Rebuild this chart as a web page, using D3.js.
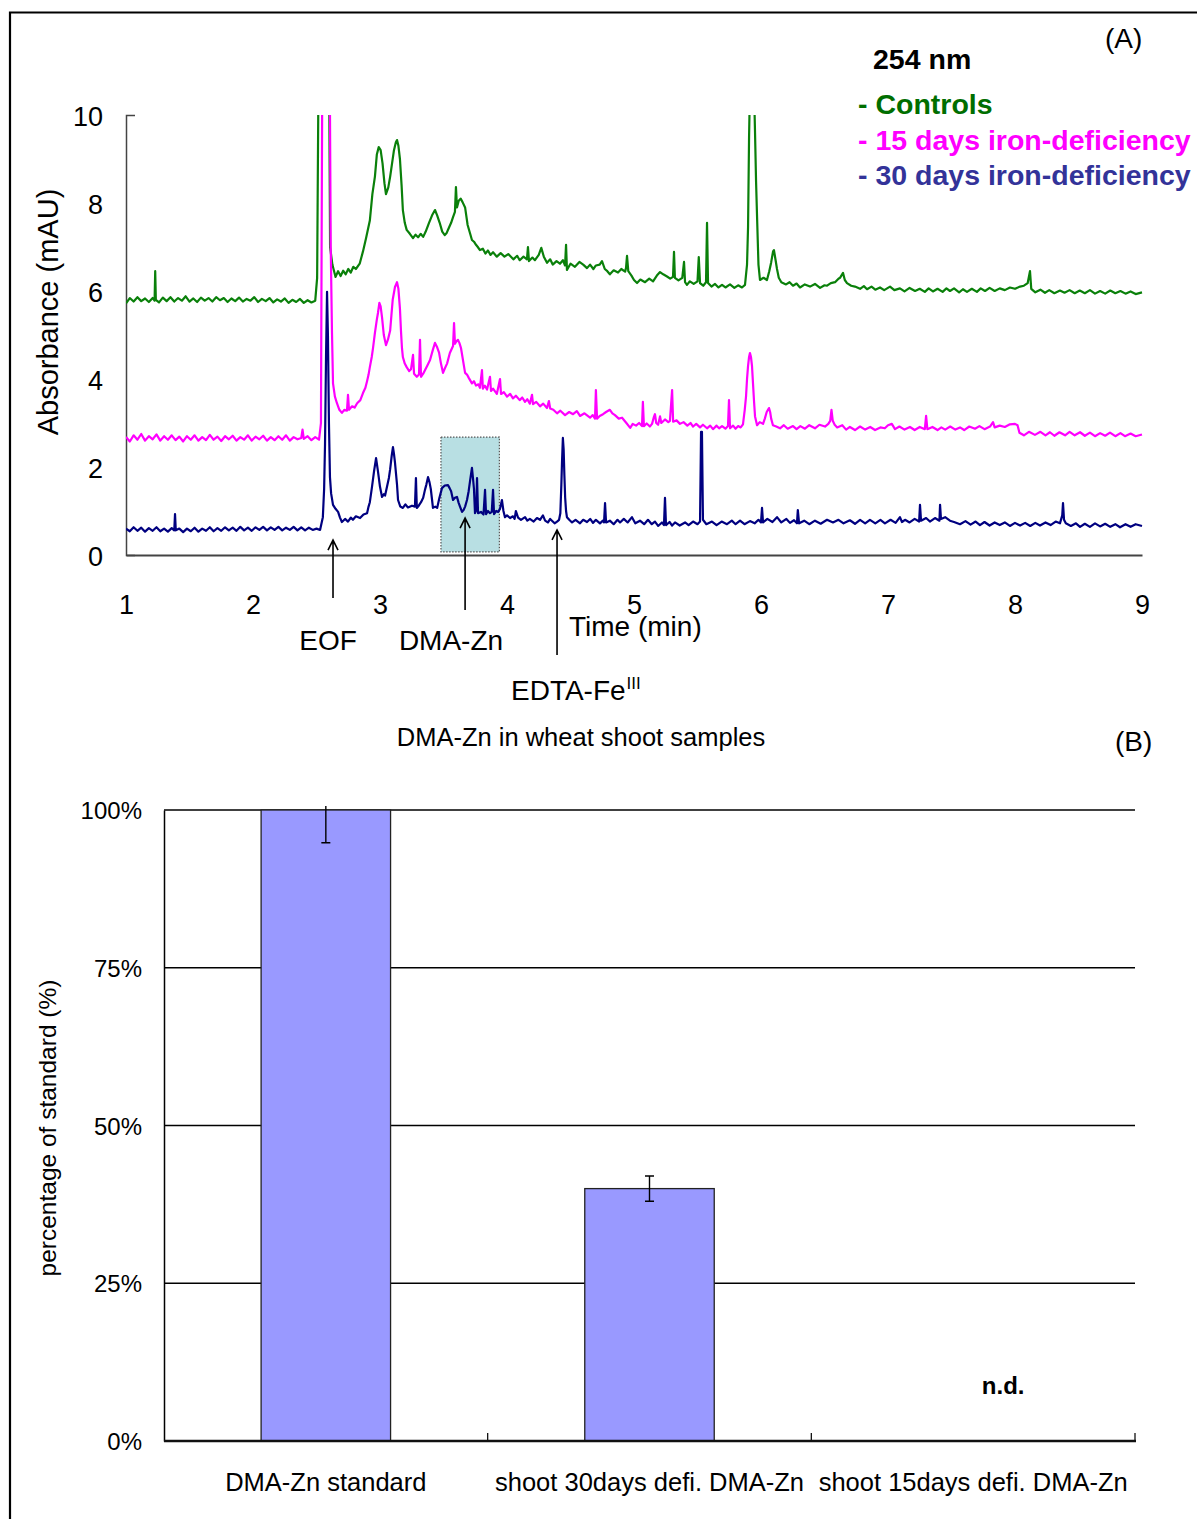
<!DOCTYPE html>
<html>
<head>
<meta charset="utf-8">
<script src="https://cdnjs.cloudflare.com/ajax/libs/d3/7.8.5/d3.min.js"></script>
<style>
html,body{margin:0;padding:0;background:#fff;}
text{font-family:"Liberation Sans",Arial,Helvetica,sans-serif;}
</style>
</head>
<body>
<script>
// ---------- DATA (panel A: electropherograms, [time min, absorbance mAU]) ----------
const controls = [[1.00,5.72],[1.03,5.84],[1.06,5.76],[1.09,5.86],[1.12,5.77],[1.15,5.83],[1.18,5.75],[1.21,5.84],[1.225,5.78],[1.23,6.45],[1.235,5.80],[1.26,5.74],[1.29,5.85],[1.32,5.77],[1.35,5.86],[1.38,5.76],[1.41,5.84],[1.44,5.78],[1.47,5.88],[1.50,5.76],[1.53,5.83],[1.56,5.75],[1.59,5.85],[1.62,5.78],[1.65,5.84],[1.68,5.76],[1.71,5.86],[1.74,5.79],[1.77,5.84],[1.80,5.75],[1.83,5.83],[1.86,5.77],[1.89,5.85],[1.92,5.76],[1.95,5.82],[1.98,5.78],[2.01,5.86],[2.04,5.75],[2.07,5.82],[2.10,5.77],[2.13,5.84],[2.16,5.74],[2.19,5.81],[2.22,5.76],[2.25,5.83],[2.28,5.73],[2.31,5.80],[2.34,5.75],[2.37,5.82],[2.40,5.73],[2.43,5.79],[2.46,5.74],[2.49,5.78],
[2.505,6.3],[2.515,10.6],[2.60,10.6],[2.607,7.0],[2.625,6.6],[2.65,6.32],[2.67,6.45],[2.69,6.34],[2.71,6.46],[2.73,6.38],[2.75,6.50],[2.77,6.42],[2.79,6.55],[2.81,6.50],[2.84,6.62],[2.866,6.9],[2.89,7.2],[2.92,7.6],[2.94,8.2],[2.96,8.6],[2.975,9.1],[2.99,9.27],[3.005,9.2],[3.02,8.9],[3.035,8.45],[3.047,8.2],[3.065,8.35],[3.08,8.6],[3.095,8.9],[3.11,9.2],[3.125,9.38],[3.134,9.43],[3.145,9.3],[3.157,9.0],[3.17,8.4],[3.18,7.84],[3.195,7.55],[3.21,7.39],[3.235,7.3],[3.26,7.2],[3.28,7.28],[3.30,7.22],[3.32,7.3],[3.34,7.23],[3.36,7.35],[3.386,7.55],[3.41,7.72],[3.433,7.84],[3.45,7.72],[3.47,7.55],[3.49,7.35],[3.51,7.27],[3.525,7.32],[3.54,7.42],[3.56,7.55],[3.575,7.68],[3.59,7.8],[3.598,8.36],[3.606,7.9],[3.62,8.05],[3.635,8.1],[3.65,8.02],[3.67,7.9],[3.69,7.5],[3.71,7.3],[3.724,7.16],[3.74,7.12],[3.756,7.05],[3.77,7.0],[3.787,6.93],[3.81,6.96],[3.83,6.85],[3.85,6.92],[3.87,6.82],[3.89,6.88],[3.92,6.78],[3.95,6.86],[3.98,6.78],[4.01,6.84],[4.05,6.72],[4.08,6.8],[4.10,6.7],[4.13,6.78],[4.157,6.72],[4.165,7.0],[4.173,6.68],[4.20,6.76],[4.22,6.7],[4.25,6.82],[4.27,6.98],[4.29,6.78],[4.315,6.64],[4.34,6.72],[4.36,6.6],[4.39,6.68],[4.417,6.62],[4.44,6.7],[4.457,6.58],[4.465,7.05],[4.472,6.48],[4.50,6.62],[4.535,6.55],[4.57,6.66],[4.60,6.6],[4.63,6.52],[4.654,6.6],[4.68,6.5],[4.70,6.58],[4.73,6.6],[4.748,6.68],[4.77,6.5],[4.79,6.45],[4.81,6.38],[4.84,6.47],[4.874,6.42],[4.90,6.5],[4.93,6.44],[4.937,6.52],[4.945,6.8],[4.955,6.45],[4.98,6.35],[5.00,6.25],[5.024,6.18],[5.05,6.26],[5.087,6.2],[5.12,6.28],[5.15,6.22],[5.18,6.35],[5.205,6.43],[5.23,6.38],[5.26,6.33],[5.285,6.28],[5.307,6.32],[5.315,6.89],[5.322,6.3],[5.35,6.24],[5.38,6.3],[5.394,6.66],[5.402,6.2],[5.417,6.14],[5.44,6.22],[5.47,6.16],[5.50,6.22],[5.51,6.77],[5.52,6.18],[5.545,6.12],[5.567,6.2],[5.575,7.55],[5.583,6.18],[5.61,6.1],[5.638,6.16],[5.665,6.08],[5.693,6.14],[5.72,6.08],[5.756,6.15],[5.79,6.07],[5.82,6.13],[5.85,6.08],[5.874,6.14],[5.89,6.6],[5.898,7.45],[5.906,9.5],[5.913,10.6],[5.945,10.6],[5.953,9.6],[5.961,8.5],[5.969,7.68],[5.98,6.6],[5.992,6.25],[6.02,6.3],[6.047,6.25],[6.065,6.45],[6.08,6.65],[6.095,6.9],[6.102,6.93],[6.115,6.7],[6.126,6.5],[6.14,6.3],[6.16,6.2],[6.197,6.15],[6.225,6.2],[6.252,6.12],[6.28,6.17],[6.307,6.08],[6.345,6.15],[6.386,6.1],[6.425,6.16],[6.465,6.07],[6.50,6.13],[6.52,6.12],[6.55,6.18],[6.583,6.2],[6.61,6.28],[6.622,6.3],[6.646,6.41],[6.66,6.25],[6.677,6.18],[6.71,6.12],[6.74,6.1],[6.78,6.05],[6.81,6.11],[6.835,6.04],[6.87,6.1],[6.90,6.03],[6.937,6.08],[6.97,6.02],[7.016,6.1],[7.05,6.02],[7.094,6.06],[7.13,5.99],[7.17,6.07],[7.213,6.0],[7.25,6.05],[7.29,5.98],[7.32,6.06],[7.354,5.99],[7.39,6.05],[7.43,5.98],[7.46,6.06],[7.488,6.0],[7.52,6.06],[7.56,5.97],[7.59,6.04],[7.622,5.98],[7.66,6.05],[7.70,5.98],[7.73,6.06],[7.764,6.0],[7.80,6.07],[7.84,6.0],[7.88,6.06],[7.92,6.02],[7.96,6.08],[8.00,6.05],[8.04,6.1],[8.07,6.12],[8.10,6.18],[8.118,6.45],[8.128,6.05],[8.16,5.97],[8.20,6.03],[8.236,5.96],[8.27,6.02],[8.31,5.95],[8.354,6.01],[8.39,5.96],[8.43,6.02],[8.47,5.95],[8.51,6.01],[8.55,5.95],[8.59,6.02],[8.63,5.94],[8.67,6.0],[8.71,5.94],[8.75,6.01],[8.79,5.95],[8.83,6.0],[8.87,5.94],[8.91,5.99],[8.95,5.93],[9.00,5.97]];

const days15 = [[1.00,2.68],[1.03,2.58],[1.06,2.72],[1.09,2.62],[1.12,2.75],[1.15,2.60],[1.18,2.70],[1.21,2.63],[1.24,2.74],[1.27,2.60],[1.30,2.70],[1.33,2.62],[1.36,2.72],[1.39,2.61],[1.42,2.69],[1.45,2.58],[1.48,2.70],[1.51,2.62],[1.54,2.72],[1.57,2.60],[1.60,2.68],[1.63,2.61],[1.66,2.73],[1.69,2.62],[1.72,2.69],[1.75,2.59],[1.78,2.70],[1.81,2.63],[1.84,2.71],[1.87,2.60],[1.90,2.68],[1.93,2.62],[1.96,2.72],[1.99,2.60],[2.02,2.69],[2.05,2.63],[2.08,2.71],[2.11,2.60],[2.14,2.68],[2.17,2.61],[2.20,2.70],[2.23,2.62],[2.26,2.72],[2.29,2.60],[2.32,2.68],[2.35,2.63],[2.38,2.66],[2.39,2.85],[2.40,2.64],[2.43,2.70],[2.46,2.61],[2.49,2.68],[2.52,2.62],
[2.535,3.0],[2.545,10.6],[2.605,10.6],[2.612,7.0],[2.622,5.05],[2.63,3.9],[2.645,3.6],[2.661,3.45],[2.68,3.3],[2.70,3.23],[2.72,3.3],[2.74,3.28],[2.748,3.64],[2.756,3.3],[2.78,3.38],[2.80,3.35],[2.82,3.45],[2.845,3.52],[2.866,3.68],[2.885,3.8],[2.898,3.95],[2.91,4.1],[2.92,4.27],[2.935,4.5],[2.945,4.7],[2.96,5.05],[2.975,5.35],[2.984,5.5],[2.995,5.73],[3.005,5.65],[3.016,5.4],[3.03,5.0],[3.047,4.77],[3.063,4.9],[3.08,5.1],[3.09,5.45],[3.10,5.8],[3.118,6.09],[3.134,6.2],[3.145,6.05],[3.157,5.6],[3.165,5.1],[3.173,4.7],[3.18,4.5],[3.195,4.35],[3.21,4.27],[3.23,4.18],[3.244,4.22],[3.26,4.55],[3.268,4.12],[3.29,4.05],[3.307,4.1],[3.315,4.89],[3.323,4.05],[3.34,4.12],[3.354,4.2],[3.375,4.32],[3.394,4.43],[3.415,4.65],[3.433,4.82],[3.45,4.72],[3.465,4.6],[3.48,4.35],[3.496,4.14],[3.512,4.25],[3.528,4.35],[3.55,4.59],[3.575,4.75],[3.583,5.27],[3.59,4.8],[3.60,4.85],[3.614,4.89],[3.625,4.82],[3.638,4.7],[3.655,4.4],[3.67,4.14],[3.685,4.1],[3.70,4.02],[3.724,3.9],[3.74,3.95],[3.756,3.85],[3.775,3.88],[3.787,3.8],[3.803,4.2],[3.81,3.78],[3.825,3.85],[3.843,3.76],[3.866,4.05],[3.874,3.73],[3.89,3.78],[3.92,3.66],[3.945,4.0],[3.953,3.66],[3.975,3.7],[4.0,3.6],[4.025,3.66],[4.047,3.56],[4.07,3.62],[4.10,3.52],[4.12,3.58],[4.142,3.48],[4.16,3.54],[4.18,3.44],[4.197,3.64],[4.205,3.43],[4.23,3.48],[4.26,3.38],[4.285,3.44],[4.315,3.34],[4.33,3.5],[4.34,3.33],[4.365,3.3],[4.394,3.22],[4.42,3.28],[4.457,3.18],[4.49,3.25],[4.52,3.2],[4.55,3.27],[4.575,3.16],[4.61,3.22],[4.654,3.12],[4.675,3.18],[4.693,3.1],[4.70,3.75],[4.709,3.1],[4.73,3.16],[4.756,3.2],[4.78,3.25],[4.81,3.3],[4.83,3.22],[4.85,3.18],[4.88,3.1],[4.906,3.12],[4.94,3.0],[4.97,2.89],[4.99,2.98],[5.016,2.94],[5.04,3.0],[5.063,2.93],[5.07,3.48],[5.078,2.93],[5.10,2.99],[5.125,2.92],[5.142,2.98],[5.155,3.12],[5.165,3.2],[5.175,3.0],[5.19,2.96],[5.205,3.15],[5.215,3.0],[5.244,3.08],[5.27,3.02],[5.283,3.05],[5.30,3.75],[5.308,3.03],[5.335,3.06],[5.362,2.98],[5.39,3.02],[5.42,2.94],[5.445,3.0],[5.465,2.92],[5.49,2.98],[5.52,2.9],[5.543,2.96],[5.575,2.88],[5.6,2.94],[5.622,2.86],[5.65,2.94],[5.67,2.88],[5.693,2.93],[5.72,2.87],[5.74,2.93],[5.748,3.52],[5.756,2.88],[5.78,2.94],[5.80,2.87],[5.82,2.93],[5.84,2.9],[5.858,2.97],[5.872,3.3],[5.882,3.6],[5.89,4.0],[5.898,4.3],[5.906,4.5],[5.913,4.59],[5.921,4.5],[5.929,4.3],[5.937,3.9],[5.945,3.5],[5.953,3.15],[5.969,2.95],[5.99,3.02],[6.016,2.98],[6.03,3.1],[6.045,3.25],[6.055,3.3],[6.063,3.34],[6.072,3.25],[6.08,3.1],[6.094,2.95],[6.12,2.92],[6.15,2.88],[6.18,2.95],[6.21,2.87],[6.252,2.93],[6.28,2.86],[6.31,2.93],[6.346,2.87],[6.38,2.95],[6.425,2.88],[6.46,2.96],[6.504,2.92],[6.53,2.98],[6.545,3.05],[6.555,3.3],[6.565,3.05],[6.58,2.96],[6.60,2.9],[6.64,2.95],[6.67,2.85],[6.70,2.91],[6.74,2.84],[6.78,2.92],[6.82,2.85],[6.86,2.91],[6.898,2.84],[6.94,2.9],[6.975,2.88],[7.0,2.95],[7.03,2.98],[7.055,2.86],[7.09,2.92],[7.13,2.85],[7.173,2.91],[7.21,2.84],[7.25,2.91],[7.29,2.86],[7.30,3.16],[7.31,2.86],[7.35,2.91],[7.39,2.84],[7.42,2.9],[7.45,2.85],[7.49,2.92],[7.53,2.85],[7.567,2.9],[7.60,2.84],[7.64,2.92],[7.685,2.87],[7.72,2.93],[7.76,2.86],[7.803,2.92],[7.827,3.02],[7.84,2.9],[7.88,2.94],[7.92,2.91],[7.96,2.97],[8.0,2.98],[8.02,2.95],[8.035,2.78],[8.07,2.72],[8.11,2.8],[8.157,2.73],[8.20,2.8],[8.24,2.72],[8.275,2.79],[8.31,2.71],[8.35,2.79],[8.394,2.72],[8.43,2.8],[8.47,2.72],[8.512,2.79],[8.55,2.71],[8.59,2.78],[8.63,2.7],[8.67,2.77],[8.71,2.71],[8.748,2.78],[8.79,2.7],[8.83,2.77],[8.866,2.7],[8.91,2.76],[8.95,2.7],[9.0,2.74]];

const days30 = [[1.00,0.6],[1.03,0.54],[1.06,0.63],[1.09,0.55],[1.12,0.62],[1.15,0.53],[1.18,0.61],[1.21,0.55],[1.24,0.63],[1.27,0.54],[1.30,0.6],[1.33,0.53],[1.36,0.61],[1.38,0.56],[1.386,0.93],[1.392,0.56],[1.42,0.6],[1.45,0.52],[1.48,0.6],[1.51,0.54],[1.54,0.62],[1.57,0.53],[1.60,0.6],[1.63,0.55],[1.66,0.63],[1.69,0.54],[1.72,0.61],[1.75,0.55],[1.78,0.63],[1.81,0.56],[1.84,0.62],[1.87,0.55],[1.90,0.64],[1.93,0.56],[1.96,0.62],[1.99,0.55],[2.02,0.63],[2.05,0.57],[2.08,0.64],[2.11,0.56],[2.14,0.63],[2.17,0.57],[2.20,0.64],[2.23,0.56],[2.26,0.62],[2.29,0.57],[2.32,0.64],[2.35,0.56],[2.38,0.63],[2.41,0.56],[2.44,0.62],[2.47,0.57],[2.50,0.6],[2.528,0.57],[2.55,0.86],[2.56,1.5],[2.567,2.5],[2.575,4.5],[2.583,5.98],[2.59,5.0],[2.598,3.0],[2.606,1.77],[2.615,1.4],[2.63,1.14],[2.65,1.05],[2.67,0.98],[2.685,0.85],[2.70,0.75],[2.725,0.82],[2.748,0.76],[2.77,0.85],[2.787,0.8],[2.81,0.88],[2.843,0.84],[2.87,0.92],[2.898,0.95],[2.91,1.1],[2.92,1.2],[2.937,1.55],[2.953,1.9],[2.969,2.2],[2.984,1.9],[3.0,1.55],[3.016,1.32],[3.03,1.38],[3.04,1.35],[3.055,1.55],[3.07,1.75],[3.08,1.95],[3.092,2.25],[3.102,2.45],[3.11,2.3],[3.118,2.1],[3.134,1.6],[3.142,1.25],[3.16,1.1],[3.18,1.07],[3.20,1.15],[3.22,1.08],[3.252,1.12],[3.275,1.1],[3.283,1.75],[3.29,1.07],[3.305,1.12],[3.323,1.2],[3.34,1.3],[3.354,1.48],[3.365,1.6],[3.378,1.77],[3.39,1.65],[3.40,1.5],[3.41,1.25],[3.417,1.07],[3.435,1.1],[3.45,1.07],[3.468,1.3],[3.488,1.52],[3.51,1.58],[3.535,1.59],[3.548,1.52],[3.56,1.45],[3.575,1.25],[3.59,1.3],[3.606,1.32],[3.62,1.18],[3.63,1.1],[3.646,0.98],[3.658,1.02],[3.67,1.1],[3.685,1.25],[3.698,1.45],[3.71,1.7],[3.724,1.98],[3.732,1.75],[3.74,1.5],[3.748,0.95],[3.758,1.02],[3.764,1.75],[3.772,0.95],[3.795,0.98],[3.815,0.92],[3.827,1.48],[3.835,0.93],[3.85,1.0],[3.866,0.95],[3.88,0.98],[3.89,1.48],[3.898,0.93],[3.915,1.0],[3.93,0.98],[3.945,1.05],[3.96,1.25],[3.972,1.0],[3.984,0.86],[4.0,0.9],[4.024,0.84],[4.047,0.88],[4.06,0.82],[4.07,1.0],[4.087,0.85],[4.11,0.8],[4.142,0.86],[4.16,0.78],[4.18,0.82],[4.21,0.76],[4.236,0.84],[4.26,0.8],[4.283,0.9],[4.30,0.78],[4.323,0.74],[4.34,0.82],[4.354,0.78],[4.375,0.72],[4.394,0.76],[4.41,0.8],[4.42,0.95],[4.428,1.6],[4.433,2.1],[4.44,2.66],[4.446,2.4],[4.452,1.8],[4.458,1.3],[4.465,1.0],[4.472,0.86],[4.49,0.8],[4.512,0.74],[4.54,0.8],[4.575,0.72],[4.60,0.8],[4.63,0.75],[4.655,0.82],[4.677,0.73],[4.70,0.8],[4.732,0.72],[4.755,0.78],[4.764,0.74],[4.772,1.18],[4.78,0.74],[4.81,0.78],[4.84,0.7],[4.87,0.8],[4.89,0.74],[4.92,0.82],[4.95,0.74],[4.984,0.86],[5.01,0.72],[5.047,0.78],[5.08,0.7],[5.11,0.8],[5.14,0.7],[5.165,0.76],[5.19,0.66],[5.22,0.74],[5.236,0.68],[5.244,1.3],[5.252,0.68],[5.28,0.75],[5.30,0.67],[5.323,0.74],[5.36,0.67],[5.402,0.74],[5.43,0.68],[5.465,0.76],[5.50,0.7],[5.52,0.76],[5.528,2.8],[5.535,2.8],[5.543,0.8],[5.57,0.7],[5.614,0.76],[5.65,0.68],[5.69,0.76],[5.732,0.7],[5.77,0.78],[5.80,0.7],[5.835,0.78],[5.87,0.7],[5.913,0.77],[5.95,0.72],[5.98,0.8],[6.0,0.74],[6.008,1.07],[6.016,0.74],[6.05,0.82],[6.09,0.75],[6.126,0.86],[6.16,0.74],[6.20,0.82],[6.228,0.73],[6.26,0.79],[6.283,0.72],[6.29,1.02],[6.30,0.72],[6.34,0.78],[6.38,0.7],[6.425,0.78],[6.47,0.71],[6.52,0.8],[6.567,0.74],[6.61,0.8],[6.65,0.72],[6.70,0.79],[6.74,0.71],[6.78,0.8],[6.82,0.72],[6.858,0.8],[6.90,0.72],[6.94,0.8],[6.976,0.72],[7.02,0.8],[7.06,0.73],[7.094,0.86],[7.11,0.75],[7.134,0.8],[7.17,0.74],[7.21,0.82],[7.245,0.76],[7.252,1.14],[7.26,0.78],[7.30,0.84],[7.33,0.76],[7.37,0.84],[7.405,0.78],[7.41,1.14],[7.417,0.82],[7.45,0.86],[7.488,0.78],[7.52,0.75],[7.567,0.7],[7.61,0.77],[7.65,0.69],[7.69,0.76],[7.724,0.68],[7.76,0.75],[7.80,0.67],[7.84,0.74],[7.88,0.68],[7.92,0.74],[7.96,0.66],[8.0,0.73],[8.04,0.67],[8.08,0.73],[8.12,0.66],[8.16,0.73],[8.197,0.67],[8.24,0.74],[8.28,0.68],[8.32,0.76],[8.354,0.72],[8.372,0.9],[8.378,1.18],[8.386,0.8],[8.40,0.72],[8.44,0.66],[8.48,0.72],[8.512,0.64],[8.55,0.71],[8.59,0.64],[8.63,0.72],[8.67,0.65],[8.71,0.71],[8.75,0.64],[8.79,0.7],[8.827,0.63],[8.87,0.7],[8.91,0.64],[8.95,0.7],[9.0,0.66]];

const traceNames = ["- Controls", "- 15 days iron-deficiency", "- 30 days iron-deficiency"];
const xTicksA = [1,2,3,4,5,6,7,8,9];
const yTicksA = [0,2,4,6,8,10];
const dmaZnWindow = [3.48, 3.94, 0.07, 2.68]; // t0, t1, v0, v1
// annotations: label, time, arrow tip value, arrow tail value
const markers = [["EOF", 2.63, 0.34, -0.98], ["DMA-Zn", 3.67, 0.84, -1.25], ["EDTA-Fe", 4.394, 0.57, -2.27]];

// ---------- DATA (panel B) ----------
const categories = ["DMA-Zn standard", "shoot 30days defi. DMA-Zn", "shoot 15days defi. DMA-Zn"];
const percentValues = [100, 40, null];
const percentErrors = [5.2, 2, null];
const yTicksB = [0, 25, 50, 75, 100];

// ---------- DRAW ----------
const W = 1197, H = 1519;
const FONT = '"Liberation Sans",Arial,Helvetica,sans-serif';
const svg = d3.select("body").append("svg").attr("width", W).attr("height", H)
  .style("display","block").style("background","#fff");

// outer frame (left and top)
svg.append("path").attr("d", "M10,1519V12.5H1197").attr("fill","none").attr("stroke","#000").attr("stroke-width",2.2);

// ===== Panel A =====
const x = d3.scaleLinear().domain([1,9]).range([126,1142]);
const y = d3.scaleLinear().domain([0,10]).range([555,115]);

const defs = svg.append("defs");
defs.append("clipPath").attr("id","clipA").append("rect")
  .attr("x", x(1)).attr("y", y(10)).attr("width", x(9)-x(1)+2).attr("height", y(0)-y(10)+3);
defs.append("clipPath").attr("id","clipB").append("rect")
  .attr("x", 150).attr("y", 806).attr("width", 1000).attr("height", 640);

// highlighted DMA-Zn window
svg.append("rect")
  .attr("x", x(dmaZnWindow[0])).attr("y", y(dmaZnWindow[3]))
  .attr("width", x(dmaZnWindow[1]) - x(dmaZnWindow[0]))
  .attr("height", y(dmaZnWindow[2]) - y(dmaZnWindow[3]))
  .attr("fill","#b8dfe3").attr("stroke","#555").attr("stroke-width",1.2).attr("stroke-dasharray","1.5,1.5");

// axes
const yAxisA = d3.axisLeft(y).tickValues(yTicksA).tickSizeInner(0).tickSizeOuter(-9).tickPadding(23);
const gyA = svg.append("g").attr("transform", `translate(${x(1)},0)`).call(yAxisA);
gyA.select(".domain").attr("stroke","#444").attr("stroke-width",1.5);
gyA.selectAll("text").style("font-family",FONT).style("font-size","27px").attr("fill","#000").attr("dy","0.38em");

const xAxisA = d3.axisBottom(x).tickValues(xTicksA).tickSizeInner(0).tickSizeOuter(0).tickPadding(40);
const gxA = svg.append("g").attr("transform", `translate(0,${y(0)})`).call(xAxisA);
gxA.select(".domain").attr("stroke","#444").attr("stroke-width",2);
gxA.selectAll("text").style("font-family",FONT).style("font-size","27px").attr("fill","#000");

// traces
const line = d3.line().x(d => x(d[0])).y(d => y(d[1]));
const traces = [[controls, "#0a800a"], [days15, "#ff00ff"], [days30, "#000080"]];
const gLines = svg.append("g").attr("clip-path","url(#clipA)");
traces.forEach(([data, col]) => {
  gLines.append("path").datum(data).attr("d", line)
    .attr("fill","none").attr("stroke", col).attr("stroke-width",2.2).attr("stroke-linejoin","round");
});

// legend
svg.append("text").attr("x",873).attr("y",69).text("254 nm")
  .style("font-family",FONT).style("font-size","28.5px").style("font-weight","bold");
svg.append("text").attr("x",1105).attr("y",48).text("(A)")
  .style("font-family",FONT).style("font-size","28px");
const legendColors = ["#006e00", "#ff00ff", "#333399"];
traceNames.forEach((n, i) => {
  svg.append("text").attr("x",858).attr("y",114 + i*35.5).text(n)
    .attr("fill", legendColors[i])
    .style("font-family",FONT).style("font-size","28.5px").style("font-weight","bold");
});

// arrows & labels
markers.forEach(([lab, t, tip, tail]) => {
  const px = x(t), yt = y(tip), yb = y(tail);
  svg.append("path").attr("d", `M${px},${yb}V${yt}M${px-5},${yt+10}L${px},${yt}L${px+5},${yt+10}`)
    .attr("fill","none").attr("stroke","#000").attr("stroke-width",1.6);
});
const annFont = s => s.style("font-family",FONT).style("font-size","28px").attr("fill","#000");
svg.append("text").attr("x",328).attr("y",650).attr("text-anchor","middle").text("EOF").call(annFont);
svg.append("text").attr("x",451).attr("y",650).attr("text-anchor","middle").text("DMA-Zn").call(annFont);
svg.append("text").attr("x",569).attr("y",636).text("Time (min)").call(annFont);
const edta = svg.append("text").attr("x",511).attr("y",700).call(annFont);
edta.append("tspan").text("EDTA-Fe");
edta.append("tspan").attr("dx",1).attr("dy",-11).style("font-size","17px").text("III");

// y title A
svg.append("text").attr("transform","translate(58,312) rotate(-90)").attr("text-anchor","middle")
  .text("Absorbance (mAU)").style("font-family",FONT).style("font-size","29px");

// ===== Panel B =====
svg.append("text").attr("x",581).attr("y",746).attr("text-anchor","middle")
  .text("DMA-Zn in wheat shoot samples").style("font-family",FONT).style("font-size","25.5px");
svg.append("text").attr("x",1115).attr("y",751).text("(B)")
  .style("font-family",FONT).style("font-size","28px");

const xB = d3.scaleBand().domain(categories).range([164,1135]);
const yB = d3.scaleLinear().domain([0,100]).range([1441,810]);

// gridlines
svg.append("g").selectAll("line").data(yTicksB.filter(d => d > 0)).join("line")
  .attr("x1", xB.range()[0]).attr("x2", xB.range()[1])
  .attr("y1", d => yB(d)).attr("y2", d => yB(d))
  .attr("stroke","#000").attr("stroke-width",1.3);

// bars
const barData = categories.map((c, i) => ({c, v: percentValues[i], e: percentErrors[i]}));
const bw = xB.bandwidth() * 0.4;
svg.append("g").selectAll("rect").data(barData.filter(d => d.v != null)).join("rect")
  .attr("x", d => xB(d.c) + (xB.bandwidth() - bw)/2)
  .attr("y", d => yB(d.v))
  .attr("width", bw)
  .attr("height", d => yB(0) - yB(d.v))
  .attr("fill","#9999ff").attr("stroke","#222").attr("stroke-width",1.3);

// error bars
const gErr = svg.append("g").attr("clip-path","url(#clipB)");
barData.filter(d => d.v != null).forEach(d => {
  const cx = xB(d.c) + xB.bandwidth()/2;
  const y1 = yB(d.v + d.e), y2 = yB(d.v - d.e);
  gErr.append("path").attr("d", `M${cx},${y1}V${y2}M${cx-4.5},${y1}H${cx+4.5}M${cx-4.5},${y2}H${cx+4.5}`)
    .attr("fill","none").attr("stroke","#000").attr("stroke-width",1.4);
});

// y axis B
const yAxisB = d3.axisLeft(yB).tickValues(yTicksB).tickFormat(d => d + "%").tickSize(0).tickPadding(22);
const gyB = svg.append("g").attr("transform", `translate(${xB.range()[0]},0)`).call(yAxisB);
gyB.select(".domain").attr("stroke","#000").attr("stroke-width",1.5);
gyB.selectAll("text").style("font-family",FONT).style("font-size","24px").attr("fill","#000").attr("dy","0.36em");

// x axis B
svg.append("line").attr("x1", xB.range()[0]).attr("x2", xB.range()[1]+1)
  .attr("y1", yB(0)).attr("y2", yB(0)).attr("stroke","#111").attr("stroke-width",2.5);
svg.append("g").selectAll("line").data(categories).join("line")
  .attr("x1", d => xB(d) + xB.bandwidth()).attr("x2", d => xB(d) + xB.bandwidth())
  .attr("y1", yB(0)).attr("y2", yB(0) - 8).attr("stroke","#111").attr("stroke-width",1.3);
svg.append("g").selectAll("text").data(categories).join("text")
  .attr("x", d => xB(d) + xB.bandwidth()/2).attr("y", 1491).attr("text-anchor","middle")
  .text(d => d).style("font-family",FONT).style("font-size","25.5px");

// n.d. label
barData.filter(d => d.v == null).forEach(d => {
  svg.append("text").attr("x", xB(d.c) + xB.bandwidth()/2 + 30).attr("y", 1394).attr("text-anchor","middle")
    .text("n.d.").style("font-family",FONT).style("font-size","24px").style("font-weight","bold");
});

// y title B
svg.append("text").attr("transform","translate(56,1128) rotate(-90)").attr("text-anchor","middle")
  .text("percentage of standard (%)").style("font-family",FONT).style("font-size","24.5px");
</script>
</body>
</html>
